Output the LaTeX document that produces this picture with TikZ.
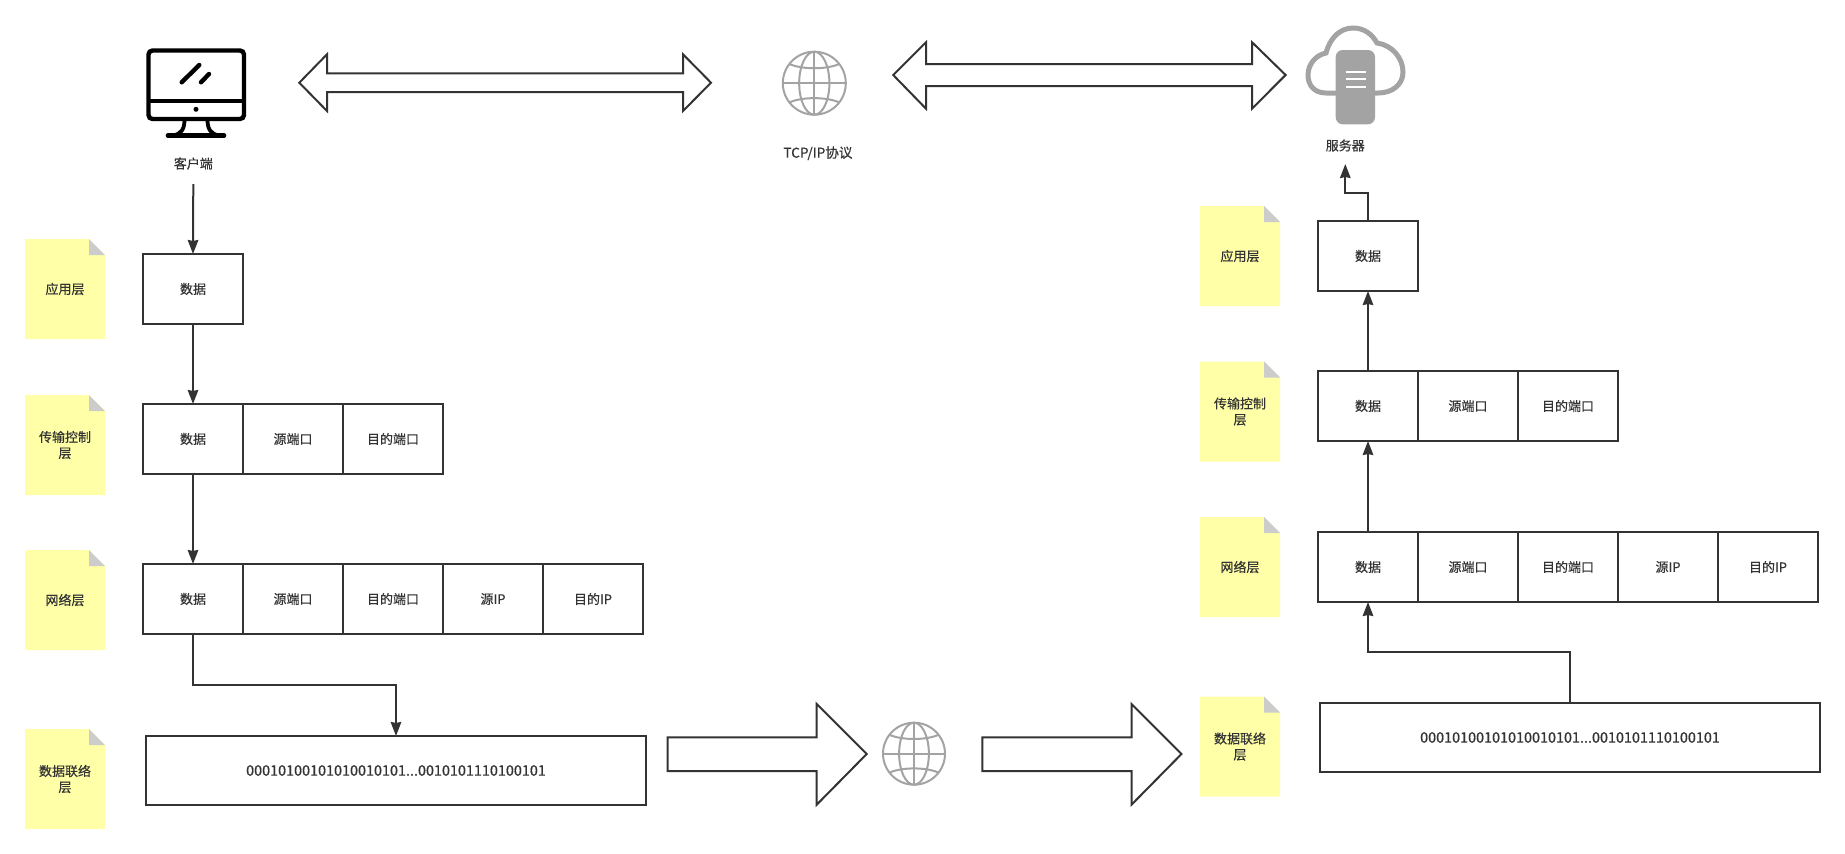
\documentclass[tikz,border=0pt]{standalone}
\usepackage{fontspec}
\setmainfont[FakeBold=0.35]{Noto Sans CJK SC}
\newfontfamily\boldishfont[FakeBold=0.7]{Noto Sans CJK SC}
\usetikzlibrary{arrows.meta,calc}
\definecolor{ink}{HTML}{333333}
\definecolor{iconfill}{HTML}{A3A3A3}
\definecolor{notefill}{HTML}{FFFFA8}
\definecolor{notefold}{HTML}{CCCCCC}
\tikzset{
  cellbox/.style={draw=ink,line width=2pt,fill=white,minimum width=100pt,minimum height=70pt,inner sep=0pt,outer sep=0pt,text=ink,font=\fontsize{13}{16}\selectfont},
  framebox/.style={draw=ink,line width=2pt,fill=white,minimum width=500pt,minimum height=69pt,inner sep=0pt,outer sep=0pt,text=ink,font=\fontsize{14.4}{16}\boldishfont},
  flow/.style={draw=ink,line width=2pt,-{Stealth[length=14pt,width=10.5pt,inset=1pt]}},
  bigarrow/.style={draw=ink,line width=2pt,fill=white,line join=miter},
  caption/.style={text=ink,inner sep=0pt,font=\fontsize{13}{16}\selectfont},
  notelabel/.style={text=ink,inner sep=0pt,align=center,font=\fontsize{13}{16}\selectfont},
  globeline/.style={draw=iconfill,line width=2pt},
}
% sticky note with a folded corner; #2,#3 give the top-left corner
\newcommand{\stickynote}[4]{%
  \fill[notefill] (#2,#3) -- ++(64,0) -- ++(16,16) -- ++(0,84) -- ++(-80,0) -- cycle;
  \fill[notefold] (#2+64,#3) -- ++(16,16) -- ++(-16,0) -- cycle;
  \node[notelabel] (#1) at (#2+40,#3+50) {#4};
}
% wire globe centred on #1,#2 with radius #3
\newcommand{\wireglobe}[3]{%
  \begin{scope}[shift={(#1,#2)},x=#3pt,y=#3pt]
    \draw[globeline] (0,0) circle [radius=1];
    \draw[globeline] (0,0) ellipse [x radius=0.48,y radius=1];
    \draw[globeline] (-1,0) -- (1,0) (0,-1) -- (0,1);
    \draw[globeline] (-0.79,0.61) .. controls (-0.4,0.43) and (0.4,0.43) .. (0.79,0.61);
    \draw[globeline] (-0.79,-0.61) .. controls (-0.4,-0.43) and (0.4,-0.43) .. (0.79,-0.61);
  \end{scope}
}
\begin{document}
\begin{tikzpicture}[x=1pt,y=-1pt]
\useasboundingbox (0,0) rectangle (1845,854);

% desktop computer
\draw[black,line width=4.4pt,rounded corners=4pt] (148.5,50.5) rectangle (244,119);
\draw[black,line width=4.4pt] (148.5,100.7) -- (244,100.7);
\fill[black] (196,109.3) circle [radius=2.5];
\draw[black,line width=4.4pt,line cap=round] (181.7,82.3) -- (199.3,65);
\draw[black,line width=4.4pt,line cap=round] (201,82.3) -- (209,74);
\draw[black,line width=3.8pt] (184.5,120) .. controls (184.5,129) and (181,135) .. (172,135.3);
\draw[black,line width=3.8pt] (207.5,120) .. controls (207.5,129) and (211,135) .. (220,135.3);
\draw[black,line width=4.6pt,line cap=round] (168,135.5) -- (224,135.5);
\node[caption] (clientlabel) at (193.3,163.5) {客户端};
\coordinate (clientout) at (193.3,184);

% network globe between client and server
\wireglobe{814.3}{83.2}{31.5}
\node[caption,font=\fontsize{13.6}{16}\selectfont] (tcplabel) at (818,153.2) {TCP/IP协议};

% cloud server
\draw[iconfill,line width=5pt] (1336,93) -- (1326,93)
  .. controls (1314,93) and (1308,85) .. (1308,75)
  .. controls (1308,64) and (1316,55) .. (1326,53)
  .. controls (1330,38) and (1340,28) .. (1353,28)
  .. controls (1364,28) and (1372,34) .. (1377,43)
  .. controls (1392,45) and (1403,58) .. (1403,72)
  .. controls (1403,85) and (1392,93) .. (1378,93) -- (1375,93);
\fill[iconfill,rounded corners=7pt] (1335.7,50) rectangle (1375,124.3);
\draw[white,line width=2pt] (1345.7,72.3) -- (1365.7,72.3) (1345.7,79.4) -- (1365.7,79.4) (1345.7,86.6) -- (1365.7,86.6);
\node[caption] (serverlabel) at (1345.3,145.5) {服务器};
\coordinate (serverin) at (1345.3,164);

% wide double arrows along the top
\draw[bigarrow] (299.3,82.7) -- (327,54.3) -- (327,73.3) -- (683,73.3) -- (683,54.3) -- (711,82.7)
  -- (683,111) -- (683,92) -- (327,92) -- (327,111) -- cycle;
\draw[bigarrow] (893.2,75) -- (926,42.2) -- (926,64) -- (1252,64) -- (1252,42.2) -- (1285.6,75)
  -- (1252,108.7) -- (1252,86) -- (926,86) -- (926,108.7) -- cycle;

% sender layer notes
\stickynote{nla}{25}{239}{应用层}
\stickynote{nlb}{25}{395}{传输控制\\层}
\stickynote{nlc}{25}{550}{网络层}
\stickynote{nld}{25}{729}{数据联络\\层}

% receiver layer notes
\stickynote{nra}{1200}{206}{应用层}
\stickynote{nrb}{1200}{361.5}{传输控制\\层}
\stickynote{nrc}{1200}{517}{网络层}
\stickynote{nrd}{1200}{696.5}{数据联络\\层}

% sender packet stack
\node[cellbox] (la) at (193,289) {数据};

\node[cellbox] (lb1) at (193,439) {数据};
\node[cellbox] (lb2) at (293,439) {源端口};
\node[cellbox] (lb3) at (393,439) {目的端口};

\node[cellbox] (lc1) at (193,599) {数据};
\node[cellbox] (lc2) at (293,599) {源端口};
\node[cellbox] (lc3) at (393,599) {目的端口};
\node[cellbox] (lc4) at (493,599) {源IP};
\node[cellbox] (lc5) at (593,599) {目的IP};

\node[framebox] (ld) at (396,770.5) {00010100101010010101...0010101110100101};

% receiver packet stack
\node[cellbox] (ra) at (1368,256) {数据};

\node[cellbox] (rb1) at (1368,406) {数据};
\node[cellbox] (rb2) at (1468,406) {源端口};
\node[cellbox] (rb3) at (1568,406) {目的端口};

\node[cellbox] (rc1) at (1368,567) {数据};
\node[cellbox] (rc2) at (1468,567) {源端口};
\node[cellbox] (rc3) at (1568,567) {目的端口};
\node[cellbox] (rc4) at (1668,567) {源IP};
\node[cellbox] (rc5) at (1768,567) {目的IP};

\node[framebox] (rd) at (1570,737.5) {00010100101010010101...0010101110100101};

% wide arrows and the globe on the wire
\draw[bigarrow] (667.7,737.3) -- (816.7,737.3) -- (816.7,704) -- (866.7,754) -- (816.7,804.7) -- (816.7,771) -- (667.7,771) -- cycle;
\wireglobe{914}{753.7}{31}
\draw[bigarrow] (982.3,737.3) -- (1131.5,737.3) -- (1131.5,704) -- (1181.5,754) -- (1131.5,804.7) -- (1131.5,771) -- (982.3,771) -- cycle;

% downward flow on the sending side
\draw[flow] (clientout) -- (la.north);
\draw[flow] (la.south) -- (lb1.north);
\draw[flow] (lb1.south) -- (lc1.north);
\draw[flow] (lc1.south) -- (lc1.south |- 0,685) -| (ld.north);

% upward flow on the receiving side
\draw[flow] (rd.north) -- (rd.north |- 0,652) -| (rc1.south);
\draw[flow] (rc1.north) -- (rb1.south);
\draw[flow] (rb1.north) -- (ra.south);
\draw[flow] (ra.north) -- (ra.north |- 0,193.3) -| (serverin);
\end{tikzpicture}
\end{document}
